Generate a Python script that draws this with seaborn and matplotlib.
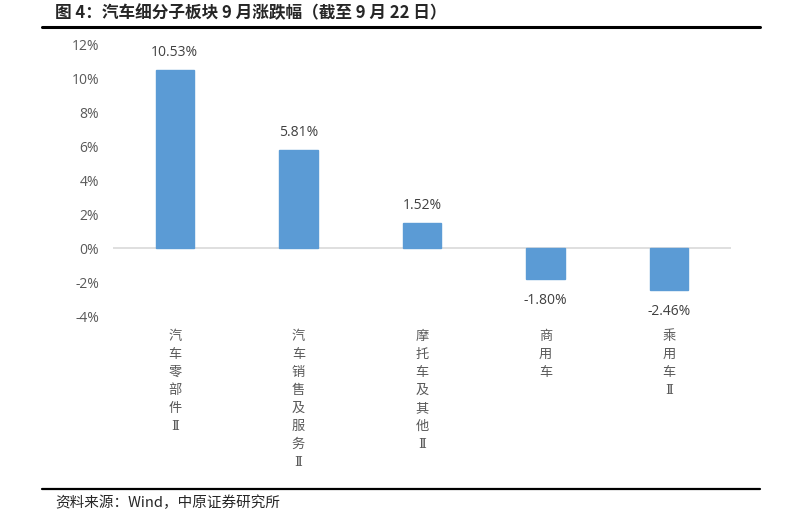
import matplotlib
matplotlib.use("Agg")
import matplotlib.pyplot as plt
import seaborn as sns
import pandas as pd

# data
categories = ["汽车零部件Ⅱ", "汽车销售及服务Ⅱ", "摩托车及其他Ⅱ", "商用车", "乘用车Ⅱ"]
changes = [10.53, 5.81, 1.52, -1.80, -2.46]
yticks = [-4, -2, 0, 2, 4, 6, 8, 10, 12]

df = pd.DataFrame({"cat": categories, "chg": changes})

sns.set_theme(style="white")
plt.rcParams['font.family'] = ['Noto Sans CJK SC', 'DejaVu Sans']

fig = plt.figure(figsize=(7.92, 5.17), dpi=100)
ax = fig.add_axes([113 / 792, 1 - 316 / 517, (731 - 113) / 792, (316 - 45) / 517])

sns.barplot(data=df, x="cat", y="chg", color="#5B9BD5", width=0.31, ax=ax,
            saturation=1, edgecolor="#5B9BD5")

ax.set_ylim(-4, 12)
ax.set_xlim(-0.5, 4.5)
ax.set_yticks(yticks)
ax.set_yticklabels([f"{t}%" for t in yticks], color="#595959", fontsize=10,
                   family=['Open Sans', 'DejaVu Sans'])
ax.axhline(0, color="#D9D9D9", linewidth=1.2, zorder=0)
for s in ax.spines.values():
    s.set_visible(False)
ax.set_xlabel("")
ax.set_ylabel("")
ax.tick_params(axis='y', length=0, pad=10)
ax.tick_params(axis='x', length=0, pad=10)

# vertical category labels (roman numeral from a serif face)
ax.set_xticks(range(len(categories)))
ax.set_xticklabels(["\n".join(c) for c in categories], color="#595959",
                   fontsize=9.5, linespacing=1.5, va="top",
                   family=['DejaVu Serif', 'Noto Sans CJK SC'])

# value labels
for i, v in enumerate(changes):
    off = 7 if v >= 0 else -10
    ax.annotate(f"{v:.2f}%", (i, v), textcoords="offset points", xytext=(0, off),
                ha="center", va="bottom" if v >= 0 else "top",
                color="#404040", fontsize=10, family=['Open Sans', 'DejaVu Sans'])

# title, footer and rules
fig.text(55 / 792, 1 - 13 / 517, "图 4：汽车细分子板块 9 月涨跌幅（截至 9 月 22 日）",
         fontsize=12, fontweight="bold", va="center", ha="left")
fig.add_artist(plt.Line2D([42 / 792, 760 / 792], [1 - 27 / 517, 1 - 27 / 517],
                          color="black", linewidth=2.2))
fig.add_artist(plt.Line2D([42 / 792, 760 / 792], [1 - 489 / 517, 1 - 489 / 517],
                          color="black", linewidth=1.6))
fig.text(55 / 792, 1 - 503 / 517, "资料来源：Wind，中原证券研究所",
         fontsize=10.5, va="center", ha="left")

fig.savefig("out.png", dpi=100)
